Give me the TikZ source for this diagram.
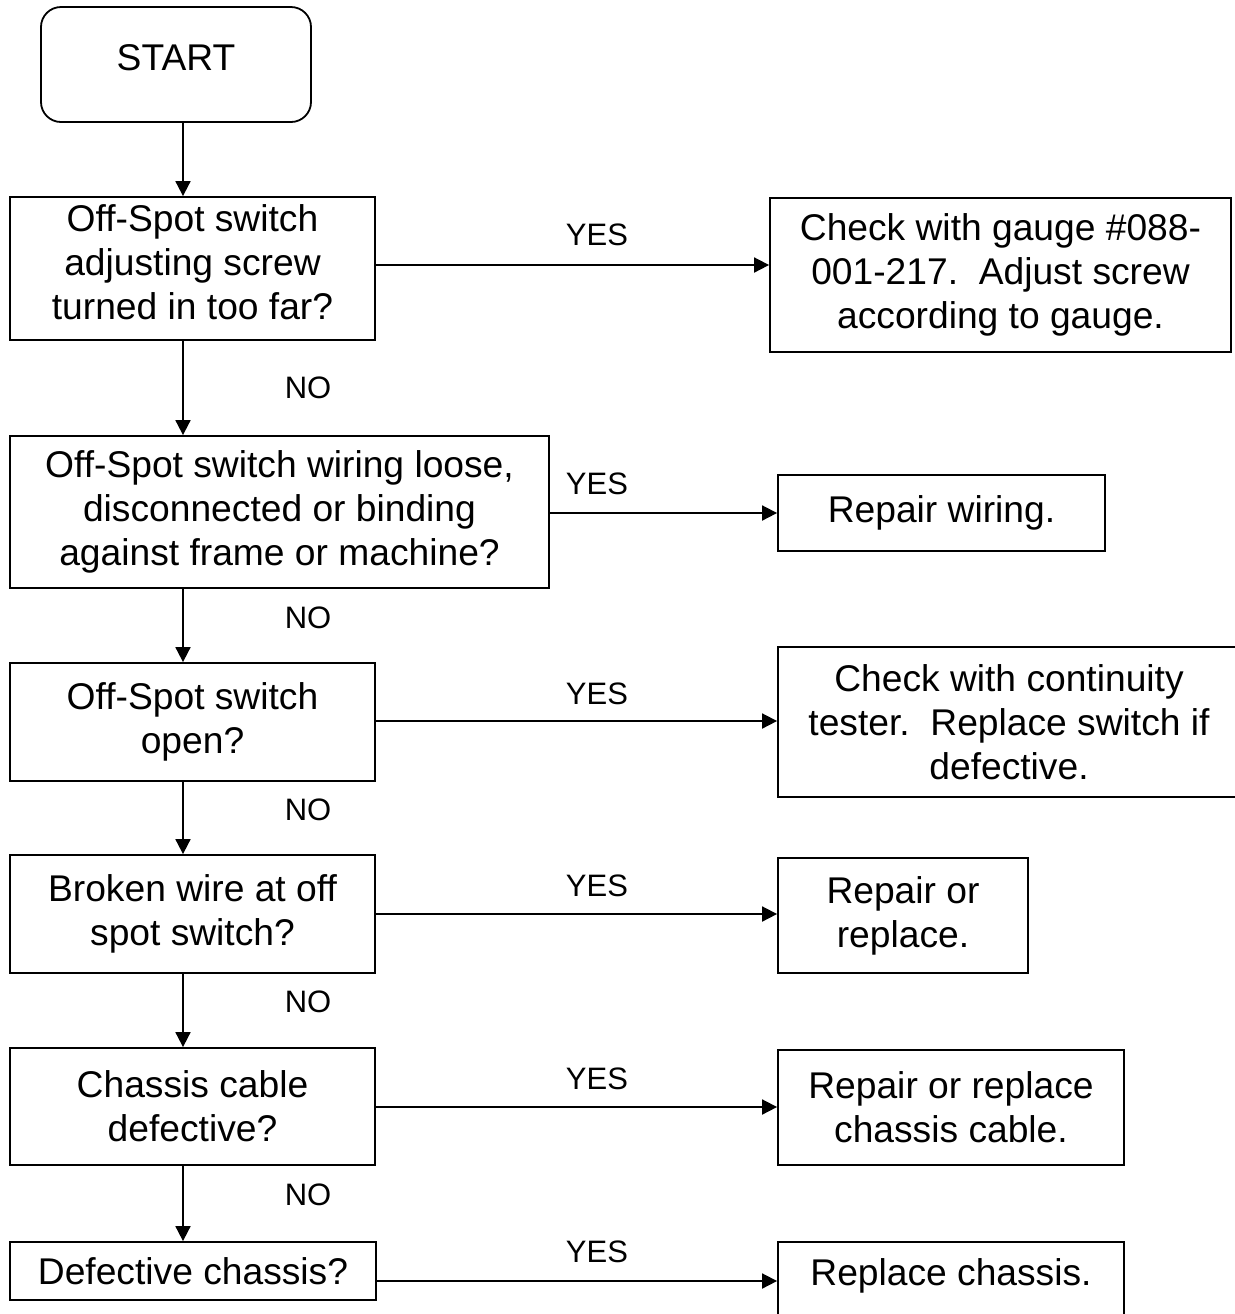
\documentclass[tikz,border=0pt]{standalone}
\usepackage{fontspec}
\setmainfont{Liberation Sans}
\usetikzlibrary{arrows.meta}
\begin{document}
\begin{tikzpicture}[x=0.5pt,y=-0.5pt,
  box/.style={draw, line width=0.9pt, inner sep=0pt, align=center, font=\fontsize{18.6}{22}\selectfont},
  txt/.style={inner sep=0pt, align=center, font=\fontsize{18.6}{22}\selectfont},
  lbl/.style={inner sep=0pt, font=\fontsize{15.5}{18}\selectfont},
  arr/.style={line width=0.9pt, -{Triangle[length=7.5pt,width=7.5pt]}}]
\useasboundingbox (0,0) rectangle (1235,1314);
\clip (0,0) rectangle (1235,1314);
\fill[white] (0,0) rectangle (1235,1314);

% start
\node[box, rounded corners=10pt, minimum width=135pt, minimum height=57.5pt] (start) at (176,64.5) {};
\node[txt] (starttext) at (176,58) {START};

% left column
\node[box, minimum width=182.5pt, minimum height=71.5pt, text depth=6pt] (b1) at (192.5,268.5) {Off-Spot switch\\adjusting screw\\turned in too far?};
\node[box, minimum width=269.5pt, minimum height=76pt] (b2) at (279.5,512) {Off-Spot switch wiring loose,\\disconnected or binding\\against frame or machine?};
\node[box, minimum width=182.5pt, minimum height=59pt] (b3) at (192.5,722) {Off-Spot switch\\open?};
\node[box, minimum width=182.5pt, minimum height=59pt] (b4) at (192.5,914) {Broken wire at off\\spot switch?};
\node[box, minimum width=182.5pt, minimum height=58.5pt] (b5) at (192.5,1106.5) {Chassis cable\\defective?};
\node[box, minimum width=183pt, minimum height=29pt] (b6) at (193,1271) {Defective chassis?};

% right column
\node[box, minimum width=230.5pt, minimum height=77pt] (r1) at (1000.5,275) {Check with gauge \#088-\\001-217.\ \ Adjust screw\\according to gauge.};
\node[box, minimum width=163.5pt, minimum height=38pt] (r2) at (941.5,513) {Repair wiring.};
\node[box, minimum width=231pt, minimum height=75pt] (r3) at (1009,722) {Check with continuity\\tester.\ \ Replace switch if\\defective.};
\node[box, minimum width=125pt, minimum height=57.5pt] (r4) at (903,915.5) {Repair or\\replace.};
\node[box, minimum width=173pt, minimum height=57.5pt] (r5) at (951,1107.5) {Repair or replace\\chassis cable.};
\node[box, minimum width=173pt, minimum height=44pt] (r6) at (951,1286) {};
\node[txt] (r6t) at (951,1276) {Replace chassis.};

% helper coordinates
\coordinate (ax) at (183,0);
\coordinate (y1) at (0,265);
\coordinate (y2) at (0,513);
\coordinate (y3) at (0,721);
\coordinate (y4) at (0,914);
\coordinate (y5) at (0,1107);
\coordinate (y6) at (0,1281);

% down arrows
\draw[arr] (start.south -| ax) -- (b1.north -| ax);
\draw[arr] (b1.south -| ax) -- (b2.north -| ax);
\draw[arr] (b2.south -| ax) -- (b3.north -| ax);
\draw[arr] (b3.south -| ax) -- (b4.north -| ax);
\draw[arr] (b4.south -| ax) -- (b5.north -| ax);
\draw[arr] (b5.south -| ax) -- (b6.north -| ax);

% yes arrows
\draw[arr] (b1.east |- y1) -- (r1.west |- y1);
\draw[arr] (b2.east |- y2) -- (r2.west |- y2);
\draw[arr] (b3.east |- y3) -- (r3.west |- y3);
\draw[arr] (b4.east |- y4) -- (r4.west |- y4);
\draw[arr] (b5.east |- y5) -- (r5.west |- y5);
\draw[arr] (b6.east |- y6) -- (r6.west |- y6);

% labels
\node[lbl] (yes1) at (597,235) {YES};
\node[lbl] (yes2) at (597,484) {YES};
\node[lbl] (yes3) at (597,694) {YES};
\node[lbl] (yes4) at (597,886) {YES};
\node[lbl] (yes5) at (597,1079) {YES};
\node[lbl] (yes6) at (597,1252) {YES};
\node[lbl] (no1) at (308,388) {NO};
\node[lbl] (no2) at (308,618) {NO};
\node[lbl] (no3) at (308,810) {NO};
\node[lbl] (no4) at (308,1002) {NO};
\node[lbl] (no5) at (308,1195) {NO};
\end{tikzpicture}
\end{document}
